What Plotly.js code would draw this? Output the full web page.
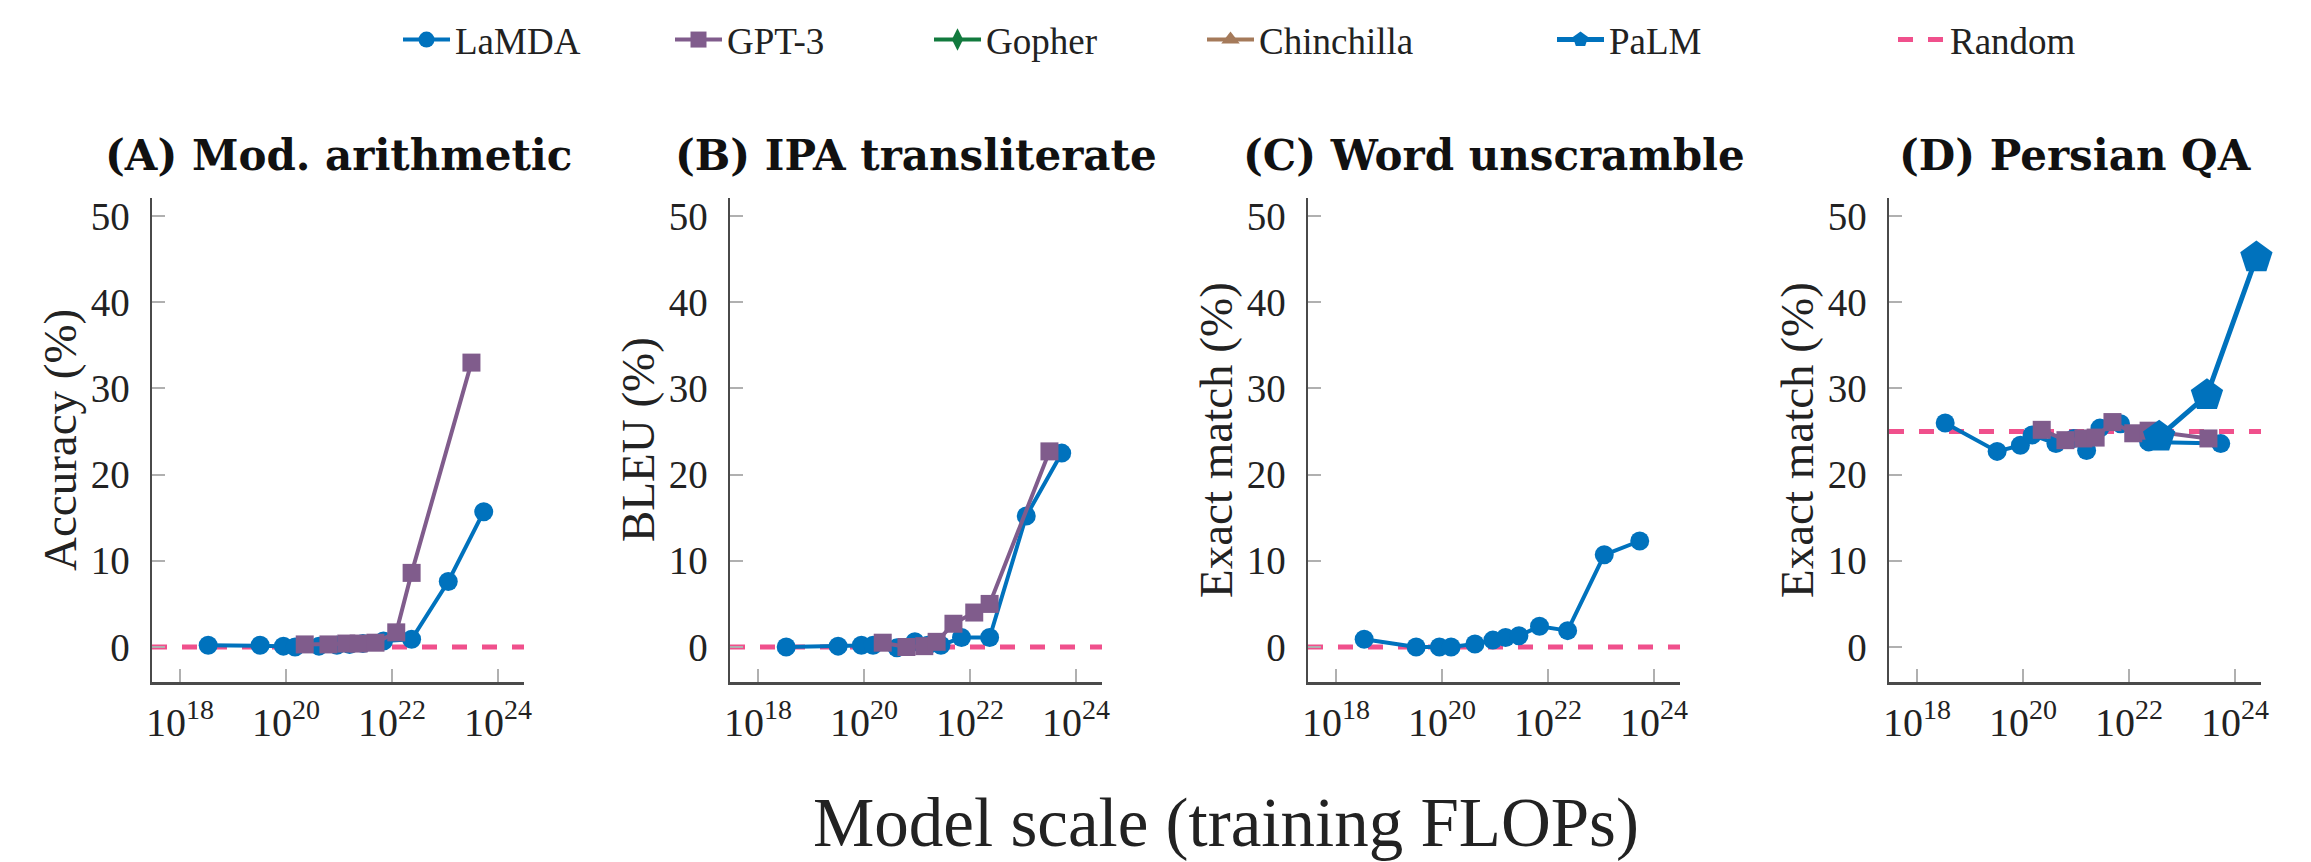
<!DOCTYPE html>
<html>
<head>
<meta charset="utf-8">
<script src="https://cdn.plot.ly/plotly-3.0.1.min.js"></script>
<style>
html, body { margin: 0; padding: 0; background: #ffffff; }
#chart { width: 2311px; height: 862px; }
</style>
</head>
<body>
<div id="chart"></div>
<script>
// ---------------- DATA ----------------
// training FLOPs of each model size
const lamdaFlops = [3.39e18, 3.24e19, 8.9e19, 1.48e20, 4.17e20, 9.1e20, 1.58e21, 2.82e21, 6.9e21, 2.34e22, 1.15e23, 5.37e23];
const gpt3Flops  = [2.25e20, 6.3e20, 1.37e21, 2.34e21, 4.86e21, 1.2e22, 2.34e22, 3.15e23];
const palmFlops  = [3.7e22, 2.95e23, 2.53e24];
// Gopher and Chinchilla appear only in the legend (no points in these panels)
const gopherFlops = [null];
const gopherScores = [null];
const chinchillaFlops = [null];
const chinchillaScores = [null];

const panelTitles = ['(A) Mod. arithmetic', '(B) IPA transliterate', '(C) Word unscramble', '(D) Persian QA'];
const yTitles = ['Accuracy (%)', 'BLEU (%)', 'Exact match (%)', 'Exact match (%)'];

// (A) Mod. arithmetic
const lamdaModArith = [0.2, 0.2, 0.1, 0.0, 0.1, 0.2, 0.3, 0.4, 0.7, 0.9, 7.6, 15.7];
const gpt3ModArith  = [0.3, 0.3, 0.4, 0.4, 0.5, 1.7, 8.6, 33.0];
// (B) IPA transliterate
const lamdaIPA = [0.0, 0.1, 0.2, 0.2, -0.1, 0.6, 0.2, 0.2, 1.1, 1.1, 15.2, 22.5];
const gpt3IPA  = [0.5, 0.0, 0.1, 0.6, 2.7, 4.0, 5.0, 22.7];
// (C) Word unscramble
const lamdaUnscramble = [0.9, 0.0, 0.0, 0.0, 0.35, 0.8, 1.1, 1.3, 2.4, 1.9, 10.7, 12.3];
// (D) Persian QA
const lamdaPersian = [26.0, 22.7, 23.4, 24.6, 23.6, 24.2, 22.8, 25.4, 25.9, 23.8, null, 23.6];
const gpt3Persian  = [25.2, 24.0, 24.2, 24.3, 26.1, 24.8, 25.1, 24.2];
const palmPersian  = [24.4, 29.2, 45.2];

// random-chance baseline per panel
const randomBaseline = [0, 0, 0, 25];

const xTickVals = [1e18, 1e20, 1e22, 1e24];
const xTickText = ['10<sup>18</sup>', '10<sup>20</sup>', '10<sup>22</sup>', '10<sup>24</sup>'];
const yTickVals = [0, 10, 20, 30, 40, 50];

// ---------------- STYLE / LAYOUT ----------------
const W = 2311, H = 862;
const BLUE = '#0072BD', PURPLE = '#805C8C', GREEN = '#127A3E', BROWN = '#A57A5A', PINK = '#F0508C';
const SERIF = 'Liberation Serif, Times New Roman, serif';
const TITLE_FONT = 'DejaVu Serif, serif';

const xLogRange = [17.47, 24.49];
const yRange = [-4.06, 52.1];
const panelLeftPx = [152, 730, 1308, 1889];
const panelWidthPx = 372;
const plotTopPx = 198, plotBottomPx = 682;

const lamdaSets = [lamdaModArith, lamdaIPA, lamdaUnscramble, lamdaPersian];
const gpt3Sets = [gpt3ModArith, gpt3IPA, null, gpt3Persian];
const palmSets = [null, null, null, palmPersian];

const traces = [];
const layout = {
  width: W, height: H,
  margin: {l: 0, r: 0, t: 0, b: 0},
  paper_bgcolor: '#ffffff', plot_bgcolor: '#ffffff',
  font: {family: SERIF, color: '#222222'},
  annotations: [],
  showlegend: true
};

for (let i = 0; i < 4; i++) {
  const sfx = i === 0 ? '' : String(i + 1);
  const xa = 'x' + sfx, ya = 'y' + sfx;
  const first = i === 0;

  // Random baseline across the full axis range
  traces.push({
    x: [Math.pow(10, xLogRange[0]), Math.pow(10, xLogRange[1])],
    y: [randomBaseline[i], randomBaseline[i]],
    xaxis: xa, yaxis: ya, type: 'scatter', mode: 'lines', name: 'Random',
    line: {color: PINK, width: 5, dash: '15px,15px'},
    showlegend: first, legend: 'legend6', hoverinfo: 'skip', cliponaxis: true
  });
  traces.push({
    x: lamdaFlops, y: lamdaSets[i], xaxis: xa, yaxis: ya, type: 'scatter',
    mode: 'lines+markers', name: 'LaMDA', connectgaps: true,
    line: {color: BLUE, width: 4},
    marker: {symbol: 'circle', size: 19, color: BLUE},
    showlegend: first, legend: 'legend', cliponaxis: false
  });
  if (gpt3Sets[i]) {
    traces.push({
      x: gpt3Flops, y: gpt3Sets[i], xaxis: xa, yaxis: ya, type: 'scatter',
      mode: 'lines+markers', name: 'GPT-3',
      line: {color: PURPLE, width: 4},
      marker: {symbol: 'square', size: 18, color: PURPLE},
      showlegend: first, legend: 'legend2', cliponaxis: false
    });
  }
  if (first) {
    traces.push({
      x: gopherFlops, y: gopherScores, xaxis: xa, yaxis: ya, type: 'scatter',
      mode: 'lines+markers', name: 'Gopher',
      line: {color: GREEN, width: 4},
      marker: {symbol: 'diamond-tall', size: 16, color: GREEN},
      showlegend: true, legend: 'legend3', hoverinfo: 'skip'
    });
    traces.push({
      x: chinchillaFlops, y: chinchillaScores, xaxis: xa, yaxis: ya, type: 'scatter',
      mode: 'lines+markers', name: 'Chinchilla',
      line: {color: BROWN, width: 4},
      marker: {symbol: 'triangle-up', size: 16, color: BROWN},
      showlegend: true, legend: 'legend4', hoverinfo: 'skip'
    });
  }
  if (palmSets[i]) {
    traces.push({
      x: palmFlops, y: palmSets[i],
      xaxis: xa, yaxis: ya, type: 'scatter',
      mode: 'lines+markers', name: 'PaLM',
      line: {color: BLUE, width: 5},
      marker: {symbol: 'pentagon', size: 34, color: BLUE},
      showlegend: true, legend: 'legend5', cliponaxis: false
    });
  }

  const x0 = panelLeftPx[i] / W, x1 = (panelLeftPx[i] + panelWidthPx) / W;
  layout['xaxis' + sfx] = {
    type: 'log', range: xLogRange, domain: [x0, x1], anchor: ya,
    showline: true, linecolor: '#4a4a4a', linewidth: 2.5, mirror: false,
    showgrid: false, zeroline: false,
    tickmode: 'array', tickvals: xTickVals, ticktext: xTickText,
    ticks: 'inside', ticklen: 13, tickwidth: 2, tickcolor: '#b0b0b0',
    tickfont: {family: SERIF, size: 40, color: '#222222'},
    ticklabelstandoff: 3, fixedrange: true
  };
  layout['yaxis' + sfx] = {
    range: yRange, domain: [1 - plotBottomPx / H, 1 - plotTopPx / H], anchor: xa,
    showline: true, linecolor: '#4a4a4a', linewidth: 2.5, mirror: false,
    showgrid: false, zeroline: false,
    tickmode: 'array', tickvals: yTickVals,
    ticks: 'inside', ticklen: 13, tickwidth: 2, tickcolor: '#b0b0b0',
    tickfont: {family: SERIF, size: 39, color: '#222222'},
    ticklabelstandoff: 12, fixedrange: true
  };

  // panel title
  layout.annotations.push({
    text: panelTitles[i], xref: 'paper', yref: 'paper',
    x: (x0 + x1) / 2, y: 1 - 156 / H, xanchor: 'center', yanchor: 'middle',
    showarrow: false, font: {family: TITLE_FONT, size: 42, weight: 'bold', color: '#111111'}
  });
  // y-axis title
  layout.annotations.push({
    text: yTitles[i], xref: 'paper', yref: 'paper',
    x: (panelLeftPx[i] - 92) / W, y: 1 - 440 / H, xanchor: 'center', yanchor: 'middle',
    textangle: -90, showarrow: false, font: {family: SERIF, size: 47, color: '#222222'}
  });
}

// shared x-axis title
layout.annotations.push({
  text: 'Model scale (training FLOPs)', xref: 'paper', yref: 'paper',
  x: 1226 / W, y: 1 - 823 / H, xanchor: 'center', yanchor: 'middle',
  showarrow: false, font: {family: SERIF, size: 69, color: '#222222'}
});

// legends, one per entry, placed along the top
const legendLeftPx = [398, 670, 929, 1202, 1552, 1893];
const legendNames = ['legend', 'legend2', 'legend3', 'legend4', 'legend5', 'legend6'];
legendNames.forEach((nm, k) => {
  layout[nm] = {
    x: legendLeftPx[k] / W, xanchor: 'left', y: 1 - 40 / H, yanchor: 'middle',
    orientation: 'h', bgcolor: 'rgba(0,0,0,0)', borderwidth: 0,
    font: {family: SERIF, size: 37, color: '#222222'}, itemwidth: 47
  };
});

Plotly.newPlot('chart', traces, layout, {staticPlot: true, displayModeBar: false});
</script>
</body>
</html>
